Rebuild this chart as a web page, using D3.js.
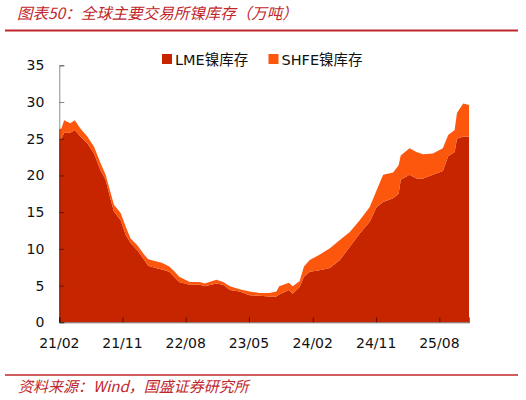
<!DOCTYPE html>
<html>
<head>
<meta charset="utf-8">
<script src="https://cdn.jsdelivr.net/npm/d3@7"></script>
<style>
  body { margin: 0; background: #fff; }
  svg text { font-family: "DejaVu Sans", "Noto Sans CJK SC", sans-serif; }
</style>
</head>
<body>
<div id="my_dataviz"></div>
<script>
// data (万吨)
var dates = ["2021-02-01", "2021-02-10", "2021-02-22", "2021-03-20", "2021-04-09", "2021-05-03",
    "2021-06-02", "2021-07-01", "2021-07-29", "2021-08-20", "2021-09-11", "2021-09-25",
    "2021-10-24", "2021-11-15", "2021-12-06", "2022-01-04", "2022-02-03", "2022-02-20",
    "2022-03-25", "2022-04-20", "2022-05-22", "2022-06-15", "2022-07-04", "2022-08-18",
    "2022-10-01", "2022-10-22", "2022-12-12", "2023-01-10", "2023-02-08", "2023-03-22",
    "2023-05-04", "2023-06-16", "2023-07-28", "2023-08-28", "2023-09-09", "2023-10-21",
    "2023-11-06", "2023-12-06", "2023-12-25", "2024-01-19", "2024-03-01", "2024-04-15",
    "2024-05-28", "2024-07-10", "2024-08-22", "2024-10-04", "2024-11-03", "2024-12-01",
    "2025-01-13", "2025-02-06", "2025-02-15", "2025-03-25", "2025-04-24", "2025-05-22",
    "2025-07-04", "2025-08-16", "2025-09-08", "2025-10-06", "2025-10-16", "2025-11-12",
    "2025-12-07"];

var lme = [24.9, 25.0, 25.8, 25.8, 26.2, 25.3,
    24.4, 23.0, 20.7, 19.4, 16.7, 15.1,
    13.9, 11.9, 10.8, 9.8, 8.5, 7.7,
    7.4, 7.2, 6.9, 6.1, 5.5, 5.1,
    5.1, 4.9, 5.3, 5.1, 4.4, 4.2,
    3.7, 3.6, 3.5, 3.5, 3.8, 4.4,
    3.9, 4.8, 6.2, 6.9, 7.1, 7.4,
    8.5, 10.3, 12.1, 13.7, 15.7, 16.4,
    16.9, 17.5, 19.4, 20.1, 19.6, 19.6,
    20.1, 20.6, 22.6, 23.2, 25.0, 25.3,
    25.3];

var shfe = [1.4, 1.4, 1.7, 1.3, 1.3, 1.1,
    0.9, 0.9, 1.0, 0.7, 0.9, 0.9,
    1.0, 1.1, 0.6, 0.7, 0.7, 0.9,
    0.9, 0.9, 0.7, 0.8, 0.7, 0.4,
    0.4, 0.4, 0.5, 0.4, 0.5, 0.3,
    0.5, 0.4, 0.5, 0.7, 1.1, 1.0,
    1.0, 0.8, 1.4, 1.6, 2.1, 2.7,
    2.7, 2.0, 1.8, 2.0, 2.3, 3.7,
    3.5, 3.9, 3.3, 3.6, 3.6, 3.3,
    2.9, 3.1, 2.9, 3.0, 3.5, 4.5,
    4.3];

var keys = ["LME镍库存", "SHFE镍库存"];
var colors = ["#C62500", "#FC570D"];
var yTicks = [0, 5, 10, 15, 20, 25, 30, 35];
var xTicks = ["2021-02-01", "2021-11-01", "2022-08-01", "2023-05-01", "2024-02-01", "2024-11-01", "2025-08-01"];

var W = 526, H = 400;
var margin = { top: 65.3, right: 57, bottom: 77.7, left: 59.3 },
    width = W - margin.left - margin.right,
    height = H - margin.top - margin.bottom;

var parse = d3.timeParse("%Y-%m-%d");
var red = "#C0272D";

var svg = d3.select("#my_dataviz")
    .append("svg")
    .attr("width", W)
    .attr("height", H);

// title + rules
svg.append("text")
    .attr("x", 17).attr("y", 19)
    .style("font-family", "'Noto Sans CJK SC', sans-serif")
    .style("font-style", "italic")
    .style("font-size", "15.5px")
    .style("fill", red)
    .text("图表50：全球主要交易所镍库存（万吨）");

svg.append("line")
    .attr("x1", 5).attr("x2", 518).attr("y1", 30.5).attr("y2", 30.5)
    .attr("stroke", red).attr("stroke-width", 2);

svg.append("line")
    .attr("x1", 5).attr("x2", 518).attr("y1", 375).attr("y2", 375)
    .attr("stroke", red).attr("stroke-width", 1.5);

svg.append("text")
    .attr("x", 18).attr("y", 392)
    .style("font-family", "'Noto Sans CJK SC', sans-serif")
    .style("font-style", "italic")
    .style("font-size", "15px")
    .style("fill", red)
    .text("资料来源：Wind，国盛证券研究所");

var g = svg.append("g")
    .attr("transform", "translate(" + margin.left + "," + margin.top + ")");

var data = dates.map(function(d, i) {
    var row = { date: parse(d) };
    row[keys[0]] = lme[i];
    row[keys[1]] = shfe[i];
    return row;
});

var x = d3.scaleTime()
    .domain(d3.extent(data, function(d) { return d.date; }))
    .range([0, width]);

var y = d3.scaleLinear()
    .domain([0, 35])
    .range([height, 0]);

var series = d3.stack().keys(keys)(data);

var area = d3.area()
    .x(function(d) { return x(d.data.date); })
    .y0(function(d) { return y(d[0]); })
    .y1(function(d) { return y(d[1]); })
    .curve(d3.curveLinear);

g.selectAll(".layer")
    .data(series)
    .enter()
    .append("path")
    .attr("class", "layer")
    .attr("d", area)
    .attr("fill", function(d, i) { return colors[i]; });

// y axis
var yAxis = g.append("g")
    .call(d3.axisRight(y).tickValues(yTicks).tickSize(5).tickFormat(""));
yAxis.select(".domain").attr("stroke", "#000").attr("stroke-opacity", 0.45);
yAxis.selectAll(".tick line").attr("stroke", "#000").attr("stroke-opacity", 0.45);

g.selectAll(".ylab")
    .data(yTicks)
    .enter()
    .append("text")
    .attr("class", "ylab")
    .attr("x", -15)
    .attr("y", function(d) { return y(d); })
    .attr("dy", "0.36em")
    .attr("text-anchor", "end")
    .style("font-size", "14px")
    .style("fill", "#111")
    .text(function(d) { return d; });

// x axis
var xAxis = g.append("g")
    .attr("transform", "translate(0," + height + ")")
    .call(d3.axisTop(x).tickValues(xTicks.map(parse)).tickSize(5).tickFormat(""));
xAxis.select(".domain").attr("stroke", "#000").attr("stroke-opacity", 0.55);
xAxis.selectAll(".tick line").attr("stroke", "#000").attr("stroke-opacity", 0.55);

g.selectAll(".xlab")
    .data(xTicks)
    .enter()
    .append("text")
    .attr("class", "xlab")
    .attr("x", function(d) { return x(parse(d)); })
    .attr("y", height + 26)
    .attr("text-anchor", "middle")
    .style("font-size", "14px")
    .style("fill", "#111")
    .text(function(d) { return d3.timeFormat("%y/%m")(parse(d)); });

// legend
var legend = svg.append("g")
    .attr("transform", "translate(162,54)");
var lx = [0, 106.5];
keys.forEach(function(k, i) {
    legend.append("rect")
        .attr("x", lx[i]).attr("y", 0)
        .attr("width", 10).attr("height", 10)
        .attr("fill", colors[i]);
    legend.append("text")
        .attr("x", lx[i] + 13).attr("y", 10.5)
        .style("font-size", "14.5px")
        .style("fill", "#111")
        .text(k);
});
</script>
</body>
</html>
